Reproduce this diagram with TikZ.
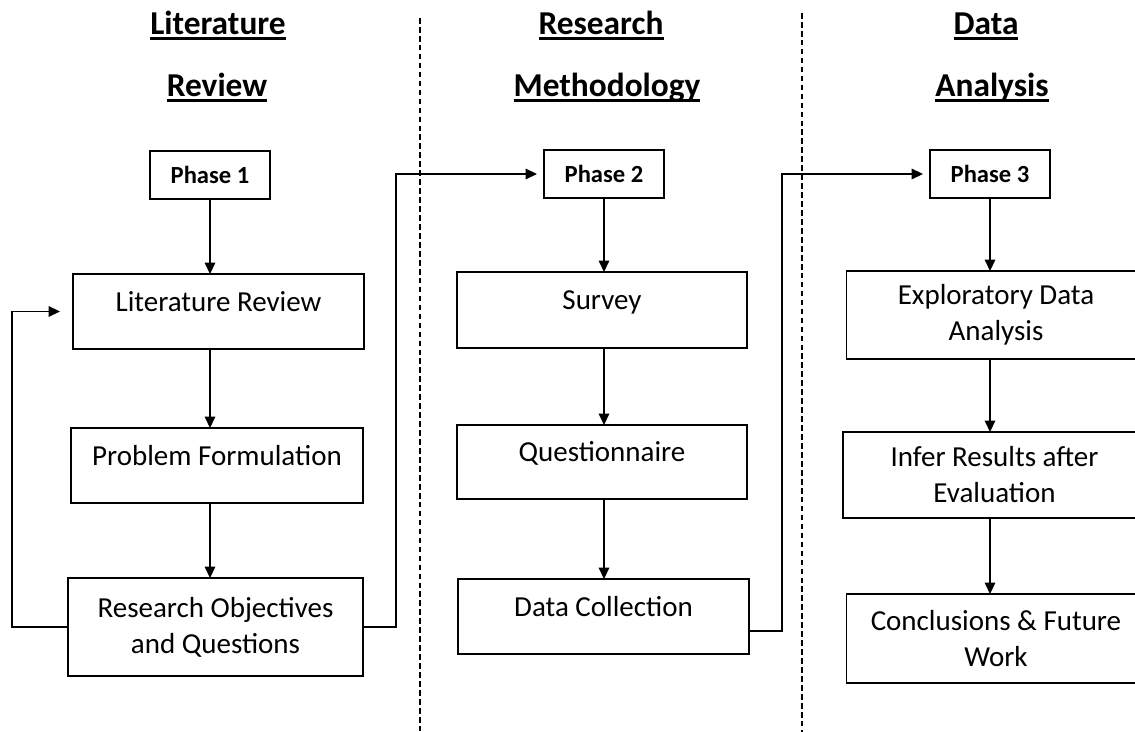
\documentclass[tikz,border=0pt]{standalone}
\usepackage{fontspec}
\setmainfont{Carlito}
\usetikzlibrary{arrows.meta}

% underline at a fixed depth, as in the headings
\newcommand{\hdline}[1]{\setbox0\hbox{#1}\rlap{\rule[-0.14em]{\wd0}{0.07em}}\box0}

\begin{document}
\begin{tikzpicture}[
    x=0.02cm, y=-0.02cm,
    box/.style={draw, rectangle, line width=0.9pt, inner sep=0pt, outer sep=0pt,
                align=center, font=\fontsize{16.5}{20.5}\selectfont},
    onebox/.style={box, text height=0.35cm, text depth=0.35cm},
    phase/.style={draw, rectangle, line width=0.9pt, inner sep=0pt, outer sep=0pt,
                  minimum width=2.4cm, minimum height=0.96cm,
                  font=\fontsize{14}{17}\selectfont\bfseries},
    head/.style={anchor=base, font=\fontsize{19}{23}\selectfont\bfseries},
    arr/.style={-{Triangle[length=6.5pt,width=6pt]}, line width=0.8pt},
    divider/.style={line width=0.6pt, dash pattern=on 3.2pt off 1.9pt},
]
\useasboundingbox (0,0) rectangle (1135,732);

% Column headings
\node[head] (hdLa) at (218,35) {\hdline{Literature}};
\node[head] (hdLb) at (217,97) {\hdline{Review}};
\node[head] (hdMa) at (601,35) {\hdline{Research}};
\node[head] (hdMb) at (607,97) {\hdline{Methodology}};
\node[head] (hdDa) at (986,35) {\hdline{Data}};
\node[head] (hdDb) at (992,97) {\hdline{Analysis}};

% Dividers
\draw[divider] (420,18) -- (420,732);
\draw[divider] (802,13) -- (802,732);

% Phase boxes
\node[phase] (ph1) at (210,175) {Phase 1};
\node[phase] (ph2) at (604,174) {Phase 2};
\node[phase] (ph3) at (990,174) {Phase 3};

% Phase 1 steps
\node[onebox, minimum width=5.82cm, minimum height=1.5cm] (lit) at (218.5,311.5)
  {Literature Review};
\node[onebox, minimum width=5.84cm, minimum height=1.5cm] (pf) at (217,465.5)
  {Problem Formulation};
\node[box, minimum width=5.9cm, minimum height=1.96cm] (ro) at (215.5,627)
  {Research Objectives\\and Questions};

% Phase 2 steps
\node[onebox, minimum width=5.8cm, minimum height=1.52cm] (sv) at (602,310) {Survey};
\node[onebox, minimum width=5.8cm, minimum height=1.48cm] (qn) at (602,462) {Questionnaire};
\node[onebox, minimum width=5.82cm, minimum height=1.5cm] (dc) at (603.5,616.5)
  {Data Collection};

% Phase 3 steps (cut off by the right edge)
\node[box, minimum width=5.98cm, minimum height=1.76cm] (eda) at (996,315)
  {Exploratory Data\\Analysis};
\node[box, minimum width=6.06cm, minimum height=1.72cm] (inf) at (994.5,475)
  {Infer Results after\\Evaluation};
\node[box, minimum width=5.98cm, minimum height=1.78cm] (concl) at (996,638.5)
  {Conclusions \& Future\\Work};

% Arrows down each column
\foreach \a/\b/\c in {ph1/lit/ph1, lit/pf/ph1, pf/ro/ph1,
                      ph2/sv/ph2, sv/qn/ph2, qn/dc/ph2,
                      ph3/eda/ph3, eda/inf/ph3, inf/concl/ph3} {
  \draw[arr] (\a.south -| \c) -- (\b.north -| \c);
}

% Loop back and links to the next phase
\draw[arr, shorten >=0.26cm] (ro.west) -- ++(-56,0) |- (lit.west);
\draw[arr, shorten >=0.14cm] (ro.east) -- ++(33,0) |- (ph2.west);
\draw[arr, shorten >=0.14cm] ([yshift=-0.29cm]dc.east) -- ++(33,0) |- (ph3.west);

\end{tikzpicture}
\end{document}
